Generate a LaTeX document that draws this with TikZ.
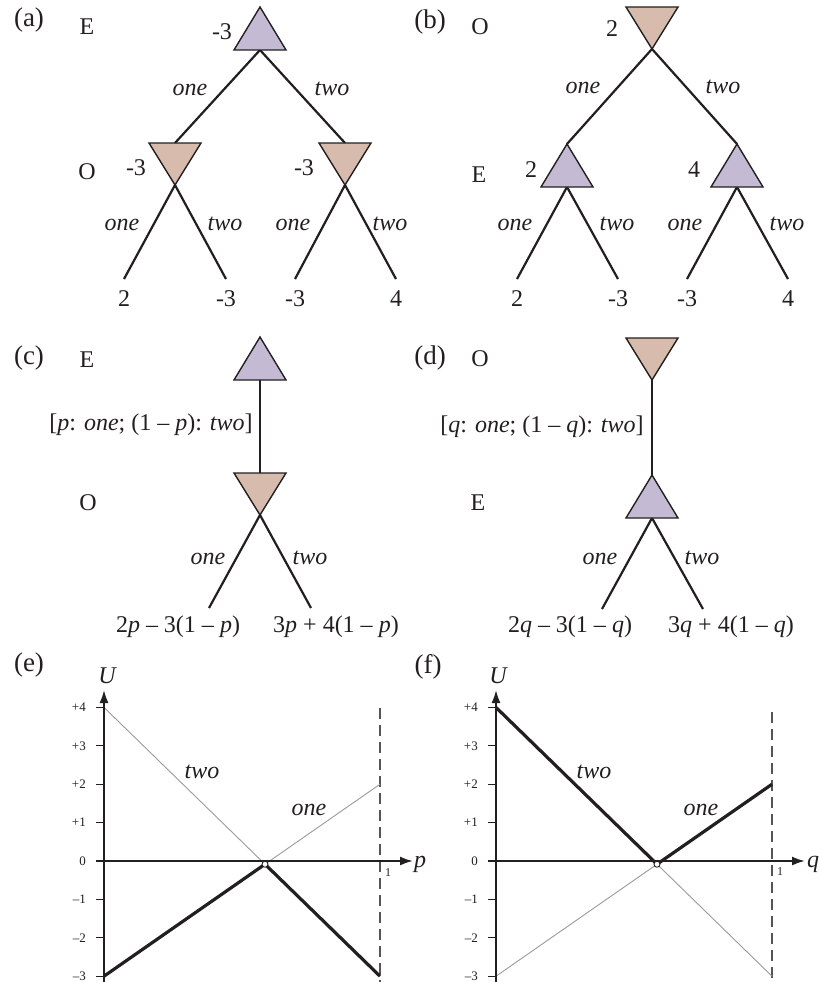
\documentclass[tikz,border=0pt]{standalone}
\usepackage{fontspec}
\setmainfont{Liberation Serif}
\usetikzlibrary{arrows.meta}
\definecolor{ecol}{RGB}{196,186,212}
\definecolor{ocol}{RGB}{215,187,172}
\definecolor{ink}{RGB}{35,31,32}
\definecolor{thinc}{RGB}{155,155,155}
\definecolor{dashc}{RGB}{85,85,85}
\pgfdeclarelayer{bg}
\pgfsetlayers{bg,main}
\begin{document}
\begin{tikzpicture}[x=1pt,y=-1pt,
  lbl/.style={font=\fontsize{24}{28}\selectfont, inner sep=0pt, text=ink},
  act/.style={font=\fontsize{24}{28}\selectfont\itshape, inner sep=0pt, text=ink},
  plbl/.style={font=\fontsize{27}{30}\selectfont, inner sep=0pt, text=ink},
  ticklbl/.style={font=\fontsize{13}{15}\selectfont, inner sep=0pt, anchor=east, text=ink},
  onelbl/.style={font=\fontsize{12}{14}\selectfont, inner sep=0pt, text=ink},
  branch/.style={line width=2.2pt, draw=ink},
  tri/.style={line width=1.4pt, draw=ink, line join=miter},
  axisline/.style={line width=2pt, draw=ink, -{Latex[length=13pt,width=9pt]}},
  tickline/.style={line width=1.2pt, draw=ink},
  thinline/.style={line width=0.9pt, draw=thinc},
  thickline/.style={line width=3.2pt, draw=ink, line join=miter},
  dashline/.style={line width=1.5pt, draw=dashc, dash pattern=on 11pt off 6pt},
  crossmark/.style={line width=0.9pt, draw=ink, fill=white},
  uptri/.pic={\filldraw[tri,fill=ecol] (0,0) -- (-26,43) -- (26,43) -- cycle;
    \coordinate (-apex) at (0,0); \coordinate (-base) at (0,43);},
  downtri/.pic={\filldraw[tri,fill=ocol] (-26,0) -- (26,0) -- (0,42) -- cycle;
    \coordinate (-top) at (0,0); \coordinate (-apex) at (0,42);}
]
\useasboundingbox (0,0) rectangle (819,982);
\begin{pgfonlayer}{bg}
\fill[white] (0,0) rectangle (819,982);
\end{pgfonlayer}

% ---------------- (a)
\node[plbl] (pa) at (29,20) {(a)};
\node[lbl] (pla1) at (87,27) {E};
\node[lbl] (pla2) at (87,172) {O};
\pic (Ea) at (260,7) {uptri};
\pic (Oa1) at (175,143) {downtri};
\pic (Oa2) at (345,143) {downtri};
\node[lbl] (na0) at (222,32) {-3};
\node[lbl] (na1) at (136,168) {-3};
\node[lbl] (na2) at (304,168) {-3};
\coordinate (la1) at (124,279);
\coordinate (la2) at (226,279);
\coordinate (la3) at (295,279);
\coordinate (la4) at (396,279);
\begin{pgfonlayer}{bg}
\draw[branch] (Ea-base) -- (Oa1-top);
\draw[branch] (Ea-base) -- (Oa2-top);
\draw[branch] (la1) -- (Oa1-apex) -- (la2);
\draw[branch] (la3) -- (Oa2-apex) -- (la4);
\end{pgfonlayer}
\node[act] (aa1) at (190,90) {one};
\node[act] (aa2) at (332,89) {two};
\node[act] (aa3) at (122,225) {one};
\node[act] (aa4) at (225,224) {two};
\node[act] (aa5) at (293,225) {one};
\node[act] (aa6) at (390,224) {two};
\node[lbl, below=11pt] (va1) at (la1) {2};
\node[lbl, below=11pt] (va2) at (la2) {-3};
\node[lbl, below=11pt] (va3) at (la3) {-3};
\node[lbl, below=11pt] (va4) at (la4) {4};

% ---------------- (b)
\node[plbl] (pb) at (430,22) {(b)};
\node[lbl] (plb1) at (480,27) {O};
\node[lbl] (plb2) at (479,175) {E};
\pic (Ob) at (652,7) {downtri};
\pic (Eb1) at (567,144) {uptri};
\pic (Eb2) at (737,144) {uptri};
\node[lbl] (nb0) at (612,29) {2};
\node[lbl] (nb1) at (531,170) {2};
\node[lbl] (nb2) at (694,170) {4};
\coordinate (lb1) at (517,279);
\coordinate (lb2) at (618,279);
\coordinate (lb3) at (687,279);
\coordinate (lb4) at (788,279);
\begin{pgfonlayer}{bg}
\draw[branch] (Ob-apex) -- (Eb1-apex);
\draw[branch] (Ob-apex) -- (Eb2-apex);
\draw[branch] (lb1) -- (Eb1-base) -- (lb2);
\draw[branch] (lb3) -- (Eb2-base) -- (lb4);
\end{pgfonlayer}
\node[act] (ab1) at (583,88) {one};
\node[act] (ab2) at (723,87) {two};
\node[act] (ab3) at (515,225) {one};
\node[act] (ab4) at (617,224) {two};
\node[act] (ab5) at (685,225) {one};
\node[act] (ab6) at (787,224) {two};
\node[lbl, below=11pt] (vb1) at (lb1) {2};
\node[lbl, below=11pt] (vb2) at (lb2) {-3};
\node[lbl, below=11pt] (vb3) at (lb3) {-3};
\node[lbl, below=11pt] (vb4) at (lb4) {4};

% ---------------- (c)
\node[plbl] (pc) at (29,358) {(c)};
\node[lbl] (plc1) at (87,360) {E};
\node[lbl] (plc2) at (88,503) {O};
\pic (Ec) at (260,337) {uptri};
\pic (Oc) at (260,473) {downtri};
\coordinate (lc1) at (209,608);
\coordinate (lc2) at (311,608);
\begin{pgfonlayer}{bg}
\draw[branch] (Ec-base) -- (Oc-top);
\draw[branch] (lc1) -- (Oc-apex) -- (lc2);
\end{pgfonlayer}
\node[lbl] (mc) at (151,425) {[\textit{p}: \textit{one}; (1 – \textit{p}): \textit{two}]};
\node[act] (ac1) at (208,559) {one};
\node[act] (ac2) at (310,558) {two};
\node[lbl] (vc1) at (178,627) {2\textit{p} – 3(1 – \textit{p})};
\node[lbl] (vc2) at (336,627) {3\textit{p} + 4(1 – \textit{p})};

% ---------------- (d)
\node[plbl] (pd) at (430,358) {(d)};
\node[lbl] (pld1) at (480,359) {O};
\node[lbl] (pld2) at (478,503) {E};
\pic (Od) at (652,338) {downtri};
\pic (Ed) at (652,475) {uptri};
\coordinate (ld1) at (602,609);
\coordinate (ld2) at (703,609);
\begin{pgfonlayer}{bg}
\draw[branch] (Od-apex) -- (Ed-apex);
\draw[branch] (ld1) -- (Ed-base) -- (ld2);
\end{pgfonlayer}
\node[lbl] (md) at (542,427) {[\textit{q}: \textit{one}; (1 – \textit{q}): \textit{two}]};
\node[act] (ad1) at (600,559) {one};
\node[act] (ad2) at (702,558) {two};
\node[lbl] (vd1) at (570,627) {2\textit{q} – 3(1 – \textit{q})};
\node[lbl] (vd2) at (731,627) {3\textit{q} + 4(1 – \textit{q})};

% ---------------- (e)
\node[plbl] (pe) at (29,665) {(e)};
\coordinate (eo) at (104,861);
\coordinate (ebot) at (104,982);
\coordinate (etop) at (104,690);
\coordinate (eright) at (413,861);
\coordinate (ea4) at (104,707.4);
\coordinate (eam3) at (104,976.2);
\coordinate (eb2) at (380,784.2);
\coordinate (ebm3) at (380,976.2);
\coordinate (ex) at (265,864.2);
\coordinate (edtop) at (380,708);
\coordinate (edbot) at (380,982);
\foreach \v/\t [count=\i] in {4/+4,3/+3,2/+2,1/+1,0/0,-1/–1,-2/–2,-3/–3} {
  \draw[tickline] (96,{861-38.4*(\v)}) -- (104,{861-38.4*(\v)});
  \node[ticklbl] (te\i) at (86,{861-38.4*(\v)}) {\t};
}
\draw[dashline] (edtop) -- (edbot);
\draw[thinline] (ea4) -- (ebm3);
\draw[thinline] (eam3) -- (eb2);
\draw[thickline] (eam3) -- (ex) -- (ebm3);
\draw[axisline] (ebot) -- (etop);
\draw[axisline] (eo) -- (eright);
\draw[crossmark] (ex) circle (3pt);
\node[act, anchor=base] (eu) at (107,683) {U};
\node[act, anchor=base west] (ep) at (414,867) {p};
\node[onelbl] (e1) at (388,873) {1};
\node[act] (etwo) at (202,772) {two};
\node[act] (eone) at (309,810) {one};

% ---------------- (f)
\node[plbl] (pf) at (428,667) {(f)};
\coordinate (fo) at (496,861);
\coordinate (fbot) at (496,982);
\coordinate (ftop) at (496,690);
\coordinate (fright) at (805,861);
\coordinate (fa4) at (496,707.4);
\coordinate (fam3) at (496,976.2);
\coordinate (fb2) at (772,784.2);
\coordinate (fbm3) at (772,976.2);
\coordinate (fx) at (657,864.2);
\coordinate (fdtop) at (772,712);
\coordinate (fdbot) at (772,982);
\foreach \v/\t [count=\i] in {4/+4,3/+3,2/+2,1/+1,0/0,-1/–1,-2/–2,-3/–3} {
  \draw[tickline] (488,{861-38.4*(\v)}) -- (496,{861-38.4*(\v)});
  \node[ticklbl] (tf\i) at (478,{861-38.4*(\v)}) {\t};
}
\draw[dashline] (fdtop) -- (fdbot);
\draw[thinline] (fam3) -- (fx) -- (fbm3);
\draw[thickline] (fa4) -- (fx) -- (fb2);
\draw[axisline] (fbot) -- (ftop);
\draw[axisline] (fo) -- (fright);
\draw[crossmark] (fx) circle (3pt);
\node[act, anchor=base] (fu) at (498,683) {U};
\node[act, anchor=base west] (fq) at (807,867) {q};
\node[onelbl] (f1) at (780,872) {1};
\node[act] (ftwo) at (594,772) {two};
\node[act] (fone) at (701,810) {one};
\end{tikzpicture}
\end{document}
